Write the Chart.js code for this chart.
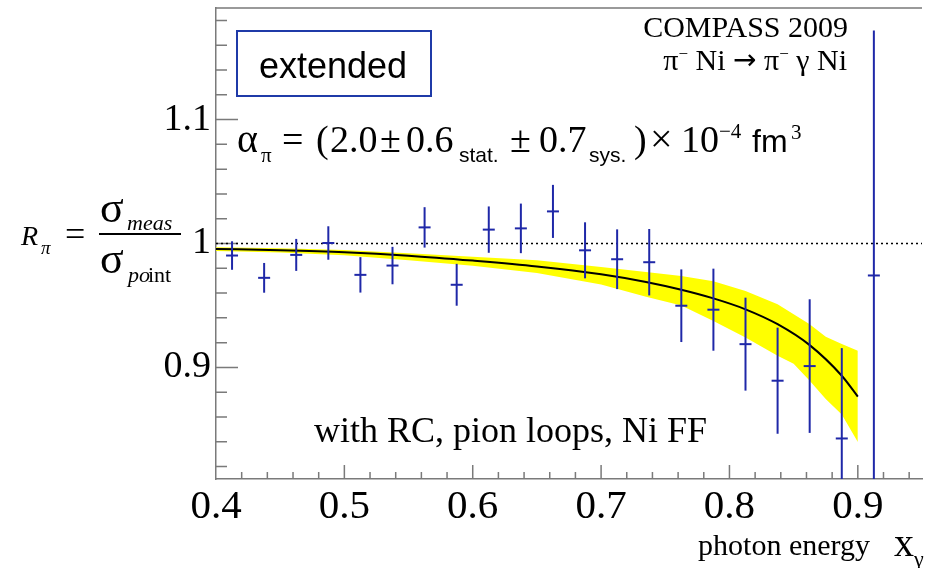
<!DOCTYPE html>
<html lang="en">
<head>
<meta charset="UTF-8" />
<title>COMPASS 2009 - pion polarisability ratio</title>
<style>
  html, body { margin: 0; padding: 0; background: #fff; }
</style>
</head>
<body>
<canvas id="myChart" width="930" height="568"></canvas>

<script src="https://cdn.jsdelivr.net/npm/chart.js"></script>
<script>
// tick labels
const xTickLabels = [0.4, 0.5, 0.6, 0.7, 0.8, 0.9];
const yTickLabels = [0.9, 1.0, 1.1];

// measured ratio per photon energy bin (bin centres)
const xBins = [0.4125, 0.4375, 0.4625, 0.4875, 0.5125, 0.5375, 0.5625, 0.5875, 0.6125, 0.6375, 0.6625,
               0.6875, 0.7125, 0.7375, 0.7625, 0.7875, 0.8125, 0.8375, 0.8625, 0.8875, 0.9125];
const ratio = [0.9903, 0.9723, 0.9908, 1.0004, 0.9747, 0.9822, 1.0130, 0.9667, 1.0112, 1.0122, 1.0259,
               0.9945, 0.9873, 0.9849, 0.9498, 0.9466, 0.9188, 0.8893, 0.9011, 0.8427, 0.9742];
const ratioErr = [0.0115, 0.0120, 0.0129, 0.0135, 0.0143, 0.0151, 0.0163, 0.0169, 0.0187, 0.0200, 0.0214,
                  0.0226, 0.0241, 0.0268, 0.0293, 0.0331, 0.0375, 0.0428, 0.0539, 0.0729, 0.1976];

// fitted curve
const fitX = [0.40, 0.45, 0.50, 0.55, 0.60, 0.65, 0.70, 0.735, 0.7625, 0.7875, 0.8125, 0.8375, 0.8625, 0.8875, 0.90];
const fitY = [0.9956, 0.9946, 0.9930, 0.9902, 0.9862, 0.9815, 0.9752, 0.9690, 0.9627, 0.9557, 0.9469, 0.9349, 0.9180, 0.8933, 0.8765];

// uncertainty band of the fit
const bandX  = [0.40, 0.45, 0.50, 0.55, 0.60, 0.65, 0.70, 0.735, 0.7625, 0.7875, 0.8125, 0.8375, 0.85, 0.8625, 0.875, 0.8875, 0.90];
const bandHi = [0.9970, 0.9962, 0.9948, 0.9922, 0.9893, 0.9865, 0.9810, 0.9771, 0.9737, 0.9696, 0.9616, 0.9509, 0.9429, 0.9349, 0.9247, 0.9190, 0.9134];
const bandLo = [0.9940, 0.9928, 0.9905, 0.9865, 0.9820, 0.9762, 0.9670, 0.9570, 0.9500, 0.9375, 0.9241, 0.9094, 0.9030, 0.8893, 0.8745, 0.8620, 0.8398];

const BLUE = "#1f28a8";
const SERIF = "'Liberation Serif', 'Times New Roman', serif";
const SANS = "'Liberation Sans', Arial, sans-serif";

function put(ctx, t, x, y, font, align) {
  ctx.font = font;
  ctx.textAlign = align || "left";
  ctx.textBaseline = "alphabetic";
  ctx.fillText(t, x, y);
}

const decor = {
  id: "decor",
  beforeDatasetsDraw(chart) {
    const { ctx, chartArea: a, scales: { x, y } } = chart;
    ctx.save();
    ctx.strokeStyle = "#7a7a7a";
    ctx.lineWidth = 1.5;
    ctx.beginPath();
    ctx.moveTo(a.left, a.top);
    ctx.lineTo(a.right, a.top);
    // ticks point into the frame, every 0.02, longer every 0.1
    for (let k = 21; k <= 47; k++) {
      const px = x.getPixelForValue(k / 50);
      const len = k % 5 === 0 ? 14 : 7;
      ctx.moveTo(px, a.bottom);
      ctx.lineTo(px, a.bottom - len);
    }
    for (let k = 41; k <= 59; k++) {
      const py = y.getPixelForValue(k / 50);
      const len = k % 5 === 0 ? 22 : 11;
      ctx.moveTo(a.left, py);
      ctx.lineTo(a.left + len, py);
    }
    ctx.stroke();
    ctx.restore();
  },
  afterDatasetsDraw(chart) {
    const { ctx, chartArea: a, scales: { x, y } } = chart;
    ctx.save();
    ctx.beginPath();
    ctx.rect(a.left, a.top, a.right - a.left, a.bottom - a.top);
    ctx.clip();
    ctx.strokeStyle = BLUE;
    ctx.lineWidth = 2;
    xBins.forEach((xv, i) => {
      const px = x.getPixelForValue(xv);
      ctx.beginPath();
      ctx.moveTo(px, y.getPixelForValue(ratio[i] + ratioErr[i]));
      ctx.lineTo(px, y.getPixelForValue(ratio[i] - ratioErr[i]));
      ctx.stroke();
    });
    ctx.restore();
  },
  afterDraw(chart) {
    const ctx = chart.ctx;
    ctx.save();
    ctx.fillStyle = "#000";

    // "extended" box
    ctx.strokeStyle = "#1f3aa8";
    ctx.lineWidth = 2;
    ctx.strokeRect(237, 31, 194, 65);
    put(ctx, "extended", 333, 78, "36px " + SANS, "center");

    // experiment and reaction
    put(ctx, "COMPASS 2009", 848, 37, "30px " + SERIF, "right");
    const parts = [["π", "30px " + SERIF, 0], ["−", "17px " + SERIF, -11], [" Ni ", "30px " + SERIF, 0],
                   ["→", "28px 'DejaVu Sans', sans-serif", -1], [" π", "30px " + SERIF, 0],
                   ["−", "17px " + SERIF, -11], [" γ Ni", "30px " + SERIF, 0]];
    let w = 0;
    parts.forEach(p => { ctx.font = p[1]; w += ctx.measureText(p[0]).width; });
    let cx = 847 - w;
    parts.forEach(p => {
      put(ctx, p[0], cx, 70 + p[2], p[1]);
      cx += ctx.measureText(p[0]).width;
    });

    // polarisability result
    const big = "38px " + SERIF, small = "21px " + SERIF, sub = "21px " + SANS;
    put(ctx, "α", 237, 152, "40px " + SERIF);
    put(ctx, "π", 261, 162, small);
    put(ctx, "=", 282, 152, big);
    put(ctx, "(", 316, 152, big);
    put(ctx, "2.0", 330, 152, big);
    put(ctx, "±", 380, 152, big);
    put(ctx, "0.6", 406, 152, big);
    put(ctx, "stat.", 459, 162, sub);
    put(ctx, "±", 510, 152, big);
    put(ctx, "0.7", 539, 152, big);
    put(ctx, "sys.", 589, 162, sub);
    put(ctx, ")", 634, 152, big);
    put(ctx, "×", 650, 152, "40px " + SERIF);
    put(ctx, "10", 681, 152, big);
    put(ctx, "−4", 719, 138, small);
    put(ctx, "fm", 752, 152, "32px " + SANS);
    put(ctx, "3", 791, 139, small);

    put(ctx, "with RC, pion loops, Ni FF", 707, 442, "36px " + SERIF, "right");

    // y axis title R_pi = sigma_meas / sigma_point
    put(ctx, "R", 21, 245, "italic 28px " + SERIF);
    put(ctx, "π", 41, 254, "italic 19px " + SERIF);
    put(ctx, "=", 65, 246, "36px " + SERIF);
    ctx.strokeStyle = "#000";
    ctx.lineWidth = 2;
    ctx.beginPath();
    ctx.moveTo(99, 234);
    ctx.lineTo(181, 234);
    ctx.stroke();
    put(ctx, "σ", 100, 222, "44px " + SERIF);
    put(ctx, "meas", 127, 230, "italic 22px " + SERIF);
    put(ctx, "σ", 100, 273, "44px " + SERIF);
    put(ctx, "po", 128, 282, "italic 22px " + SERIF);
    put(ctx, "int", 148, 282, "22px " + SERIF);

    // x axis title
    put(ctx, "photon energy", 870, 555, "30px " + SERIF, "right");
    put(ctx, "x", 894, 556, "40px " + SERIF);
    put(ctx, "γ", 914, 566, "22px " + SERIF);
    ctx.restore();
  }
};

const toPts = (xs, ys) => xs.map((v, i) => ({ x: v, y: ys[i] }));

const ctx = document.getElementById("myChart").getContext("2d");
const chart = new Chart(ctx, {
  type: "line",
  data: {
    datasets: [
      {
        label: "data",
        data: toPts(xBins, ratio),
        showLine: false,
        pointStyle: "line",
        pointRadius: 6,
        pointHoverRadius: 6,
        borderColor: BLUE,
        borderWidth: 2,
        order: 0,
      },
      {
        label: "fit",
        data: toPts(fitX, fitY),
        borderColor: "#000",
        borderWidth: 2,
        pointRadius: 0,
        cubicInterpolationMode: "monotone",
        order: 1,
      },
      {
        label: "unity",
        data: [{ x: 0.4, y: 1 }, { x: 0.95, y: 1 }],
        borderColor: "#000",
        borderWidth: 1.5,
        borderDash: [2, 3],
        pointRadius: 0,
        order: 2,
      },
      {
        label: "band high",
        data: toPts(bandX, bandHi),
        borderColor: "transparent",
        pointRadius: 0,
        tension: 0,
        fill: false,
        order: 3,
      },
      {
        label: "band low",
        data: toPts(bandX, bandLo),
        borderColor: "transparent",
        backgroundColor: "#ffff00",
        pointRadius: 0,
        tension: 0,
        fill: "-1",
        order: 3,
      },
    ],
  },
  options: {
    responsive: false,
    animation: false,
    devicePixelRatio: 1,
    layout: { padding: { top: 7, left: 0, right: 0, bottom: 0 } },
    plugins: { legend: { display: false }, tooltip: { enabled: false } },
    scales: {
      x: {
        type: "linear",
        min: 0.4,
        max: 0.95,
        grid: { display: false, drawTicks: false },
        border: { display: true, color: "#7a7a7a", width: 1.5 },
        afterBuildTicks: (s) => { s.ticks = xTickLabels.map(v => ({ value: v })); },
        afterFit: (s) => { s.height = 89; s.paddingLeft = 0; s.paddingRight = 0; },
        ticks: {
          autoSkip: false,
          maxRotation: 0,
          padding: 4,
          color: "#000",
          font: { family: SERIF, size: 41 },
          callback: (v) => String(v),
        },
      },
      y: {
        min: 0.81,
        max: 1.19,
        grid: { display: false, drawTicks: false },
        border: { display: true, color: "#7a7a7a", width: 1.5 },
        afterBuildTicks: (s) => { s.ticks = yTickLabels.map(v => ({ value: v })); },
        afterFit: (s) => { s.width = 216; s.paddingTop = 0; s.paddingBottom = 0; },
        ticks: {
          autoSkip: false,
          padding: 5,
          color: "#000",
          font: { family: SERIF, size: 38 },
          callback: (v) => String(v),
        },
      },
    },
  },
  plugins: [decor],
});
</script>
</body>
</html>
